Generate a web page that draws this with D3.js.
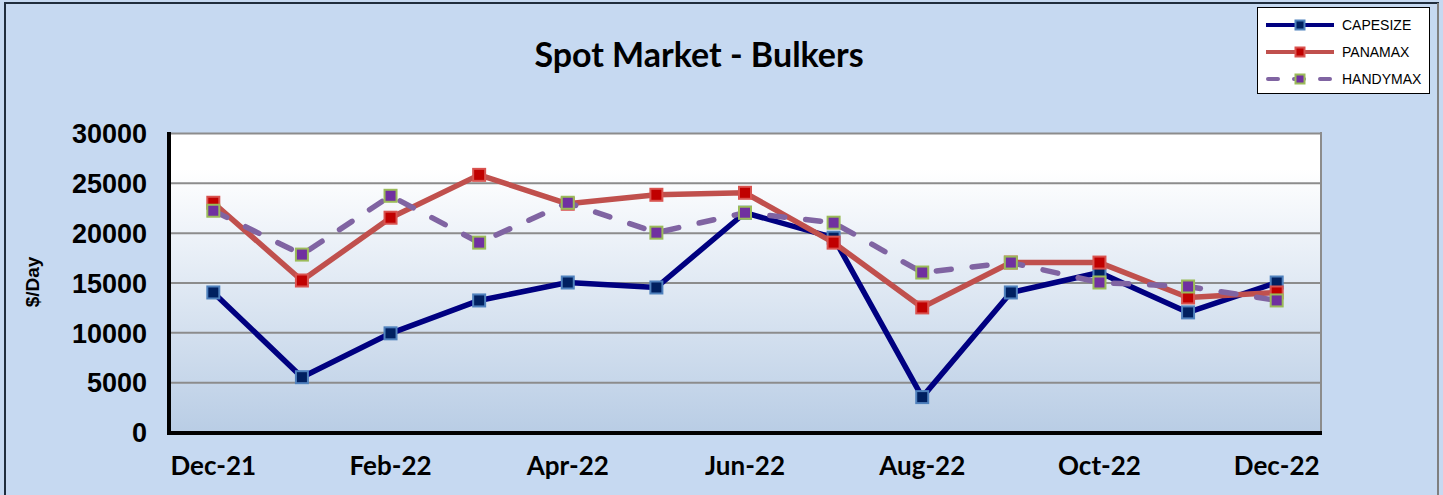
<!DOCTYPE html>
<html>
<head>
<meta charset="utf-8">
<script src="https://cdn.jsdelivr.net/npm/d3@7"></script>
<style>
  html, body { margin: 0; padding: 0; background: #c6d9f1; }
  svg { display: block; }
</style>
</head>
<body>
<svg id="chart" width="1443" height="495"></svg>
<script>
// data
const months = ["Dec-21", "Jan-22", "Feb-22", "Mar-22", "Apr-22", "May-22", "Jun-22",
                "Jul-22", "Aug-22", "Sep-22", "Oct-22", "Nov-22", "Dec-22"];
const capesize = [14000, 5500, 9900, 13200, 15000, 14500, 22000, 19500, 3500, 14000, 16000, 12000, 15000];
const panamax  = [23000, 15200, 21500, 25800, 22900, 23800, 24000, 19000, 12500, 17000, 17000, 13500, 14000];
const handymax = [22200, 17800, 23700, 19000, 23000, 20000, 22000, 21000, 16000, 17000, 15000, 14600, 13200];
const yTicks = [0, 5000, 10000, 15000, 20000, 25000, 30000];

const series = [
    { name: "CAPESIZE", values: capesize, line: "#000080", dash: null, fill: "#002060", stroke: "#4f81bd" },
    { name: "PANAMAX",  values: panamax,  line: "#c0504d", dash: null, fill: "#c00000", stroke: "#d9534f" },
    { name: "HANDYMAX", values: handymax, line: "#8064a2", dash: "15,21", fill: "#7030a0", stroke: "#9bbb59" }
];

const settings = {
    width: 1443,
    height: 495,
    plotLeft: 169,
    plotRight: 1321,
    plotTop: 133,
    plotBottom: 432,
    lineWidth: 5.5,
    markerSize: 12
};

let svg = d3.select("#chart");
let innerWidth = settings.plotRight - settings.plotLeft;

let x = d3.scaleBand().domain(months).range([settings.plotLeft, settings.plotRight]);
let y = d3.scaleLinear().domain([0, 30000]).range([settings.plotBottom, settings.plotTop]);
let cx = d => x(d) + x.bandwidth() / 2;

// outer frame
svg.append("rect")
    .attr("x", 5).attr("y", 3)
    .attr("width", 1433).attr("height", 500)
    .style("fill", "#c6d9f1")
    .style("stroke", "#1f2d3d")
    .style("stroke-width", 2);
svg.append("line")
    .attr("x1", 1438).attr("y1", 3).attr("x2", 1438).attr("y2", 495)
    .style("stroke", "#7f7f7f").style("stroke-width", 2);

// plot background gradient
let defs = svg.append("defs");
let grad = defs.append("linearGradient")
    .attr("id", "plotGrad")
    .attr("x1", 0).attr("y1", 0).attr("x2", 0).attr("y2", 1);
grad.append("stop").attr("offset", "0%").attr("stop-color", "#ffffff");
grad.append("stop").attr("offset", "12%").attr("stop-color", "#ffffff");
grad.append("stop").attr("offset", "100%").attr("stop-color", "#b9cde5");

svg.append("rect")
    .attr("x", settings.plotLeft).attr("y", settings.plotTop)
    .attr("width", innerWidth).attr("height", settings.plotBottom - settings.plotTop)
    .style("fill", "url(#plotGrad)");

// grid lines
svg.append("g")
    .attr("class", "grid")
    .attr("transform", `translate(${settings.plotLeft},0)`)
    .call(d3.axisLeft(y).tickValues(yTicks).tickSize(-innerWidth).tickFormat(""))
    .call(g => g.select(".domain").remove())
    .call(g => g.selectAll("line").style("stroke", "#8c8c8c").style("stroke-width", 2));

// right border of plot area
svg.append("line")
    .attr("x1", settings.plotRight).attr("y1", settings.plotTop - 1)
    .attr("x2", settings.plotRight).attr("y2", settings.plotBottom)
    .style("stroke", "#8c8c8c").style("stroke-width", 2);

// y axis labels
svg.append("g")
    .attr("class", "y axis")
    .attr("transform", `translate(${settings.plotLeft - 22},0)`)
    .call(d3.axisLeft(y).tickValues(yTicks).tickSize(0).tickPadding(0).tickFormat(d3.format("d")))
    .call(g => g.select(".domain").remove())
    .call(g => g.selectAll("text")
        .attr("dy", "0.36em")
        .style("font-family", "'Liberation Sans', Arial, sans-serif")
        .style("font-weight", "bold")
        .style("font-size", "27px")
        .style("fill", "#000"));

// x axis labels, every second month
svg.append("g")
    .attr("class", "x axis")
    .attr("transform", `translate(0,${settings.plotBottom})`)
    .call(d3.axisBottom(x).tickSize(0).tickPadding(25)
        .tickValues(months.filter((d, i) => i % 2 === 0)))
    .call(g => g.select(".domain").remove())
    .call(g => g.selectAll("text")
        .style("font-family", "Lato, 'Open Sans', sans-serif")
        .style("font-weight", "bold")
        .style("font-size", "26px")
        .style("fill", "#000"));

// black left + bottom axis lines
svg.append("path")
    .attr("d", `M${settings.plotLeft},${settings.plotTop - 1}V${settings.plotBottom + 1}H${settings.plotRight + 1}`)
    .style("fill", "none")
    .style("stroke", "#000")
    .style("stroke-width", 4);

// y title
svg.append("text")
    .attr("transform", "translate(39,282) rotate(-90)")
    .attr("text-anchor", "middle")
    .style("font-family", "'Liberation Sans', Arial, sans-serif")
    .style("font-weight", "bold")
    .style("font-size", "19px")
    .text("$/Day");

// chart title
svg.append("text")
    .attr("x", 699).attr("y", 67)
    .attr("text-anchor", "middle")
    .style("font-family", "Lato, 'Open Sans', sans-serif")
    .style("font-weight", "bold")
    .style("font-size", "34px")
    .text("Spot Market - Bulkers");

// series
let line = d3.line().x((d, i) => cx(months[i])).y(d => y(d));
let ms = settings.markerSize;

for (let s of series) {
    let g = svg.append("g").attr("class", "series");
    g.append("path")
        .datum(s.values)
        .attr("d", line)
        .style("fill", "none")
        .style("stroke", s.line)
        .style("stroke-width", settings.lineWidth)
        .style("stroke-linejoin", "round")
        .style("stroke-linecap", s.dash ? "round" : "butt")
        .style("stroke-dasharray", s.dash);
    g.selectAll("rect.marker")
        .data(s.values)
        .join("rect")
        .attr("class", "marker")
        .attr("x", (d, i) => cx(months[i]) - ms / 2)
        .attr("y", d => y(d) - ms / 2)
        .attr("width", ms).attr("height", ms)
        .style("fill", s.fill)
        .style("stroke", s.stroke)
        .style("stroke-width", 2);
}

// legend
let legend = svg.append("g").attr("class", "legend");
legend.append("rect")
    .attr("x", 1257.5).attr("y", 7.5)
    .attr("width", 172).attr("height", 86)
    .style("fill", "#fff")
    .style("stroke", "#000")
    .style("stroke-width", 1);

let item = legend.selectAll("g.item")
    .data(series)
    .join("g")
    .attr("class", "item")
    .attr("transform", (d, i) => `translate(0,${25 + i * 27})`);
item.append("line")
    .attr("x1", d => d.dash ? 1268 : 1266).attr("x2", 1334).attr("y1", 0).attr("y2", 0)
    .style("stroke", d => d.line)
    .style("stroke-width", 4)
    .style("stroke-linecap", d => d.dash ? "round" : "butt")
    .style("stroke-dasharray", d => d.dash ? "10,16" : null);
item.append("rect")
    .attr("x", 1300 - 4.5).attr("y", -4.5)
    .attr("width", 9).attr("height", 9)
    .style("fill", d => d.fill)
    .style("stroke", d => d.stroke)
    .style("stroke-width", 2);
item.append("text")
    .attr("x", 1342).attr("y", 0).attr("dy", "0.36em")
    .style("font-family", "'Liberation Sans', Arial, sans-serif")
    .style("font-size", "14px")
    .text(d => d.name);
</script>
</body>
</html>
